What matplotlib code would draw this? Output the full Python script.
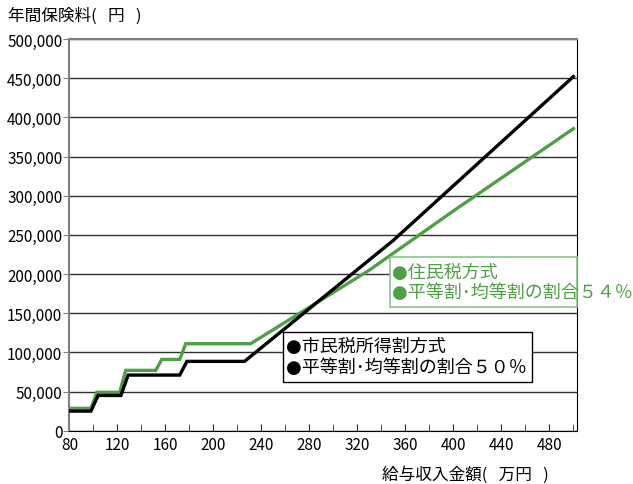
import numpy as np
import matplotlib.pyplot as plt
from matplotlib.patches import Rectangle
from matplotlib.ticker import FuncFormatter, MultipleLocator

plt.rcParams['font.family'] = ['Noto Sans CJK JP', 'DejaVu Sans']

# 市民税所得割方式 (黒)
x_shi = [80, 98, 104, 123, 129, 172, 178, 226, 350, 500]
y_shi = [25000, 25000, 45000, 45000, 71000, 71000, 88500, 88500, 243000, 452000]

# 住民税方式 (緑)
x_jyu = [80, 98, 103, 122, 127, 152, 157, 172, 177, 231, 330, 400, 500]
y_jyu = [28500, 28500, 49000, 49000, 77000, 77000, 91000, 91000, 111000, 111000,
         205000, 280500, 385500]

leg_shi = ['●市民税所得割方式', '●平等割･均等割の割合５０％']
leg_jyu = ['●住民税方式', '●平等割･均等割の割合５４％']

green = '#4f9f45'
leg_font = ['DejaVu Sans', 'Noto Sans CJK JP']

fig = plt.figure(figsize=(6.33, 4.85), dpi=100)
ax = fig.add_axes([0.1095, 0.1099, 0.8016, 0.8076])

ax.set_xlim(80, 502.8)
ax.set_ylim(0, 500000)

# グリッド
ax.yaxis.grid(True, color='#303030', lw=1)
ax.set_axisbelow(True)

ax.plot(x_jyu, y_jyu, color=green, lw=2.4, solid_joinstyle='miter', zorder=3)
ax.plot(x_shi, y_shi, color='black', lw=2.4, solid_joinstyle='miter', zorder=3)

# 目盛
ax.xaxis.set_minor_locator(MultipleLocator(20))
ax.set_xticks(np.arange(80, 481, 40))
ax.tick_params(axis='x', which='both', direction='in', length=5, color='#303030',
               labelsize=11, pad=4)
ax.yaxis.set_major_locator(MultipleLocator(50000))
ax.yaxis.set_major_formatter(FuncFormatter(lambda v, p: '{:,.0f}'.format(v)))
ax.tick_params(axis='y', direction='out', length=4, color='#808080',
               labelsize=11, pad=1)

for s in ['left', 'top']:
    ax.spines[s].set_color('#808080')
    ax.spines[s].set_linewidth(1.5)
ax.spines['right'].set_color('black')
ax.spines['bottom'].set_color('black')

fig.text(0.013, 0.966, '年間保険料(   円   )', fontsize=12, va='center', ha='left')
fig.text(0.603, 0.021, '給与収入金額(   万円   )', fontsize=12, va='center', ha='left')

# 凡例ボックス
ax.add_patch(Rectangle((0.4218, 0.1236), 0.4907, 0.1276, transform=ax.transAxes,
                       facecolor='white', edgecolor='black', lw=1, zorder=5))
ax.text(0.427, 0.2155, leg_shi[0], transform=ax.transAxes, fontsize=13,
        family=leg_font, va='center', ha='left', zorder=6)
ax.text(0.427, 0.1618, leg_shi[1], transform=ax.transAxes, fontsize=13,
        family=leg_font, va='center', ha='left', zorder=6)

ax.add_patch(Rectangle((0.632, 0.315), 0.368, 0.1277, transform=ax.transAxes,
                       facecolor='white', edgecolor='#8cc48a', lw=1.2, zorder=5,
                       clip_on=False))
ax.text(0.636, 0.4044, leg_jyu[0], transform=ax.transAxes, fontsize=13, color=green,
        family=leg_font, va='center', ha='left', zorder=6)
ax.text(0.636, 0.3533, leg_jyu[1], transform=ax.transAxes, fontsize=13, color=green,
        family=leg_font, va='center', ha='left', zorder=6)

fig.savefig('out.png', dpi=100)
